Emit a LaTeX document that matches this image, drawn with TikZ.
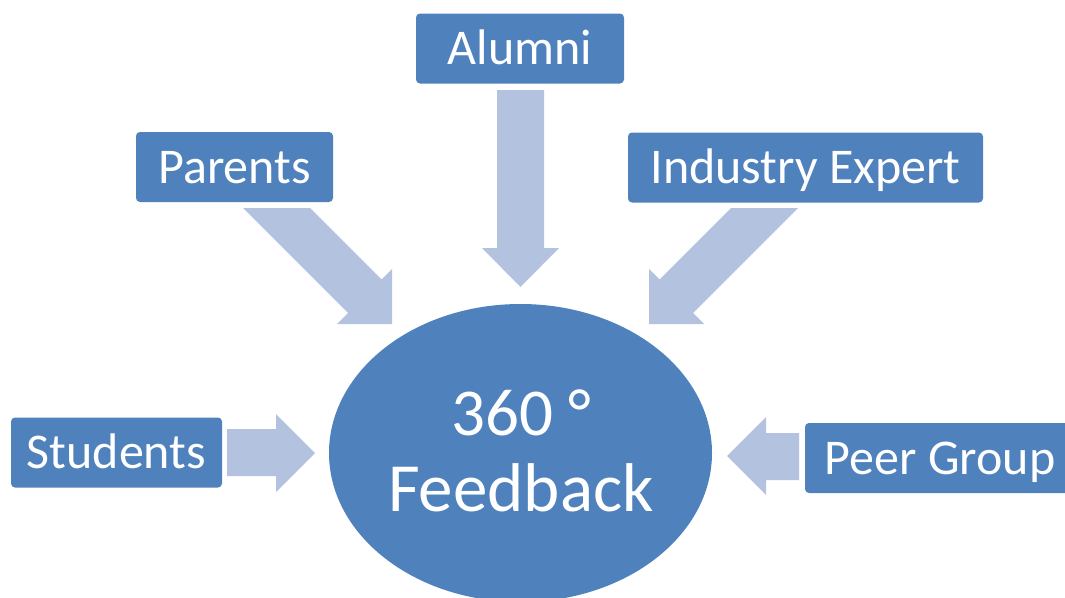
\documentclass[tikz,border=0pt]{standalone}
\usepackage{fontspec}
\setmainfont{Carlito}
\usetikzlibrary{shapes.geometric}
\definecolor{boxblue}{HTML}{4F81BD}
\definecolor{arrowblue}{HTML}{B3C2DE}
\tikzset{
  srcbox/.style={fill=boxblue, rounded corners=4pt, inner sep=0pt, text=white,
    font=\fontsize{50}{55}\selectfont, text height=32pt, text depth=0pt, minimum height=70pt},
  blockarrow/.style={fill=arrowblue, draw=none},
  bigtext/.style={text=white, anchor=base, inner sep=0pt}
}
\begin{document}
\begin{tikzpicture}[x=1pt,y=-1pt]
\useasboundingbox (0,0) rectangle (1065,597);
\clip (0,0) rectangle (1065,597);
% boxes
\node[srcbox, minimum width=208pt] (alumni) at (520,48.5) {Alumni};
\node[srcbox, minimum width=197pt] (parents) at (234.5,167) {Parents};
\node[srcbox, minimum width=355pt] (industry) at (805.5,167.5) {Industry Expert};
\node[srcbox, minimum width=211pt] (students) at (116.5,452.5) {Students};
\node[srcbox, minimum width=270pt] (peer) at (940,458) {Peer Group};
% ellipse
\node[ellipse, fill=boxblue, minimum width=383pt, minimum height=298pt, inner sep=0pt] (fb) at (520.5,453) {};
\node[bigtext, font=\fontsize{67}{76}\selectfont] (t1) at (521,435) {360 °};
\node[bigtext, font=\fontsize{69}{76}\selectfont] (t2) at (521,511) {Feedback};
% block arrows
\path[blockarrow] (497,90) -- (544,90) -- (544,248) -- (559,248) -- (520.5,287) -- (482,248) -- (497,248) -- cycle;
\path[blockarrow] (243,208) -- (310,208) -- (381.5,279.5) -- (392,269) -- (392,324) -- (337,324) -- (348,313) -- cycle;
\path[blockarrow] (798,208) -- (731,208) -- (659.5,279.5) -- (649,269) -- (649,324) -- (704,324) -- (693,313) -- cycle;
\path[blockarrow] (227,429) -- (276,429) -- (276,414) -- (315,453) -- (276,492) -- (276,476) -- (227,476) -- cycle;
\path[blockarrow] (799,433) -- (766,433) -- (766,417) -- (727,456) -- (766,495) -- (766,480) -- (799,480) -- cycle;
\end{tikzpicture}
\end{document}
